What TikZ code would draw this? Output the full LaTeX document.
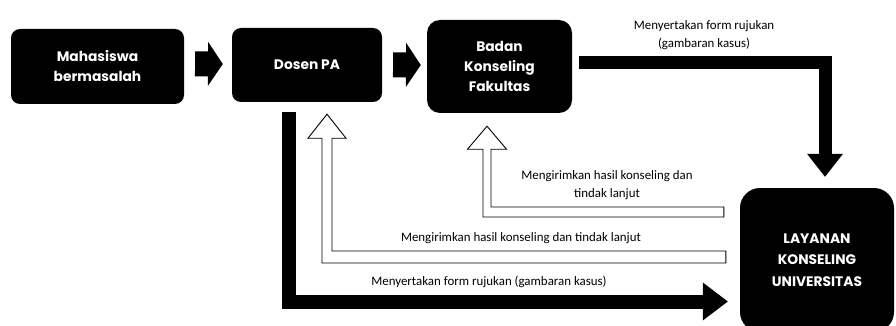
\documentclass[tikz,border=0pt]{standalone}
\usepackage{fontspec}
\setmainfont{Carlito}
\newfontfamily\boxfont{Poppins}
\usetikzlibrary{calc}
\begin{document}
\begin{tikzpicture}[x=1pt,y=-1pt,
  box/.style={fill=black, text=white, align=center, inner sep=0pt,
    font=\boxfont\bfseries\fontsize{13.8}{20}\selectfont},
  lbl/.style={font=\fontsize{12.9}{17.5}\selectfont, align=center, inner sep=0pt},
  band/.style={draw=black, line join=miter},
  openarrow/.style={draw=black, fill=white, line width=0.9pt, line join=miter}]
\useasboundingbox (0,0) rectangle (896,326);

% boxes
\node[box, rounded corners=9pt, minimum width=173pt, minimum height=75pt] (mah) at (97.5,66.5) {Mahasiswa\\bermasalah};
\node[box, rounded corners=9pt, minimum width=150pt, minimum height=74pt] (dos) at (307,65) {Dosen PA};
\node[box, rounded corners=13pt, minimum width=145pt, minimum height=93pt] (bad) at (499.5,66.5) {Badan\\Konseling\\Fakultas};
\node[box, rounded corners=20pt, minimum width=154pt, minimum height=144pt,
  font=\boxfont\bfseries\fontsize{13.8}{21.5}\selectfont] (lay) at (817,260) {LAYANAN\\KONSELING\\UNIVERSITAS};

% small block arrows
\coordinate (a1s) at ($(mah.east)+(11,-2.5)$);
\coordinate (a1e) at ($(dos.west)+(-9,-1)$);
\fill (a1s) -- ++(0,-12.5) -- ++(13,0) -- ++(0,-9.5) -- (a1e) -- ++(-15,22) -- ++(0,-9.5) -- ++(-13,0) -- cycle;
\coordinate (a2s) at ($(dos.east)+(11,0)$);
\coordinate (a2e) at ($(bad.west)+(-6,-1.5)$);
\fill (a2s) -- ++(0,-12.5) -- ++(13,0) -- ++(0,-9.5) -- (a2e) -- ++(-15,22) -- ++(0,-9.5) -- ++(-13,0) -- cycle;

% thick black L from Badan to Layanan
\coordinate (f1s) at ($(bad.east)+(7,-3.5)$);
\coordinate (f1e) at ($(lay.north)+(8,-11)$);
\draw[band, line width=13pt] (f1s) -| ($(f1e)+(0,-23)$);
\fill ($(f1e)+(-18,-23)$) -- (f1e) -- ($(f1e)+(18,-23)$) -- cycle;

% thick black L from Dosen PA to Layanan
\coordinate (f2s) at ($(dos.south)+(-18.5,10)$);
\coordinate (f2e) at ($(lay.west)+(-12,41.5)$);
\draw[band, line width=14pt] (f2s) |- ($(f2e)+(-25,0)$);
\fill ($(f2e)+(-25,-19)$) -- (f2e) -- ($(f2e)+(-25,19)$) -- cycle;

% open arrow Layanan -> Dosen PA
\coordinate (o1s) at ($(lay.west)+(-14,-3)$);
\coordinate (o1e) at ($(dos.south)+(20,12)$);
\draw[openarrow] ($(o1s)+(0,6)$) -| ($(o1e)+(-5,24)$) -- ++(-14,0) -- (o1e) -- ++(19,24) -- ++(-14,0) |- ($(o1s)+(0,-6)$) -- cycle;

% open arrow Layanan -> Badan
\coordinate (o2s) at ($(lay.west)+(-16,-48)$);
\coordinate (o2e) at ($(bad.south)+(-12.5,13)$);
\draw[openarrow] ($(o2s)+(0,5)$) -| ($(o2e)+(-4,23)$) -- ++(-15.5,0) -- (o2e) -- ++(19.5,23) -- ++(-15.5,0) |- ($(o2s)+(0,-5)$) -- cycle;

% labels
\node[lbl] (t1) at (704,35) {Menyertakan form rujukan\\(gambaran kasus)};
\node[lbl] (t2) at (607,185) {Mengirimkan hasil konseling dan\\tindak lanjut};
\node[lbl] (t3) at (521,238) {Mengirimkan hasil konseling dan tindak lanjut};
\node[lbl] (t4) at (489,282) {Menyertakan form rujukan (gambaran kasus)};
\end{tikzpicture}
\end{document}
